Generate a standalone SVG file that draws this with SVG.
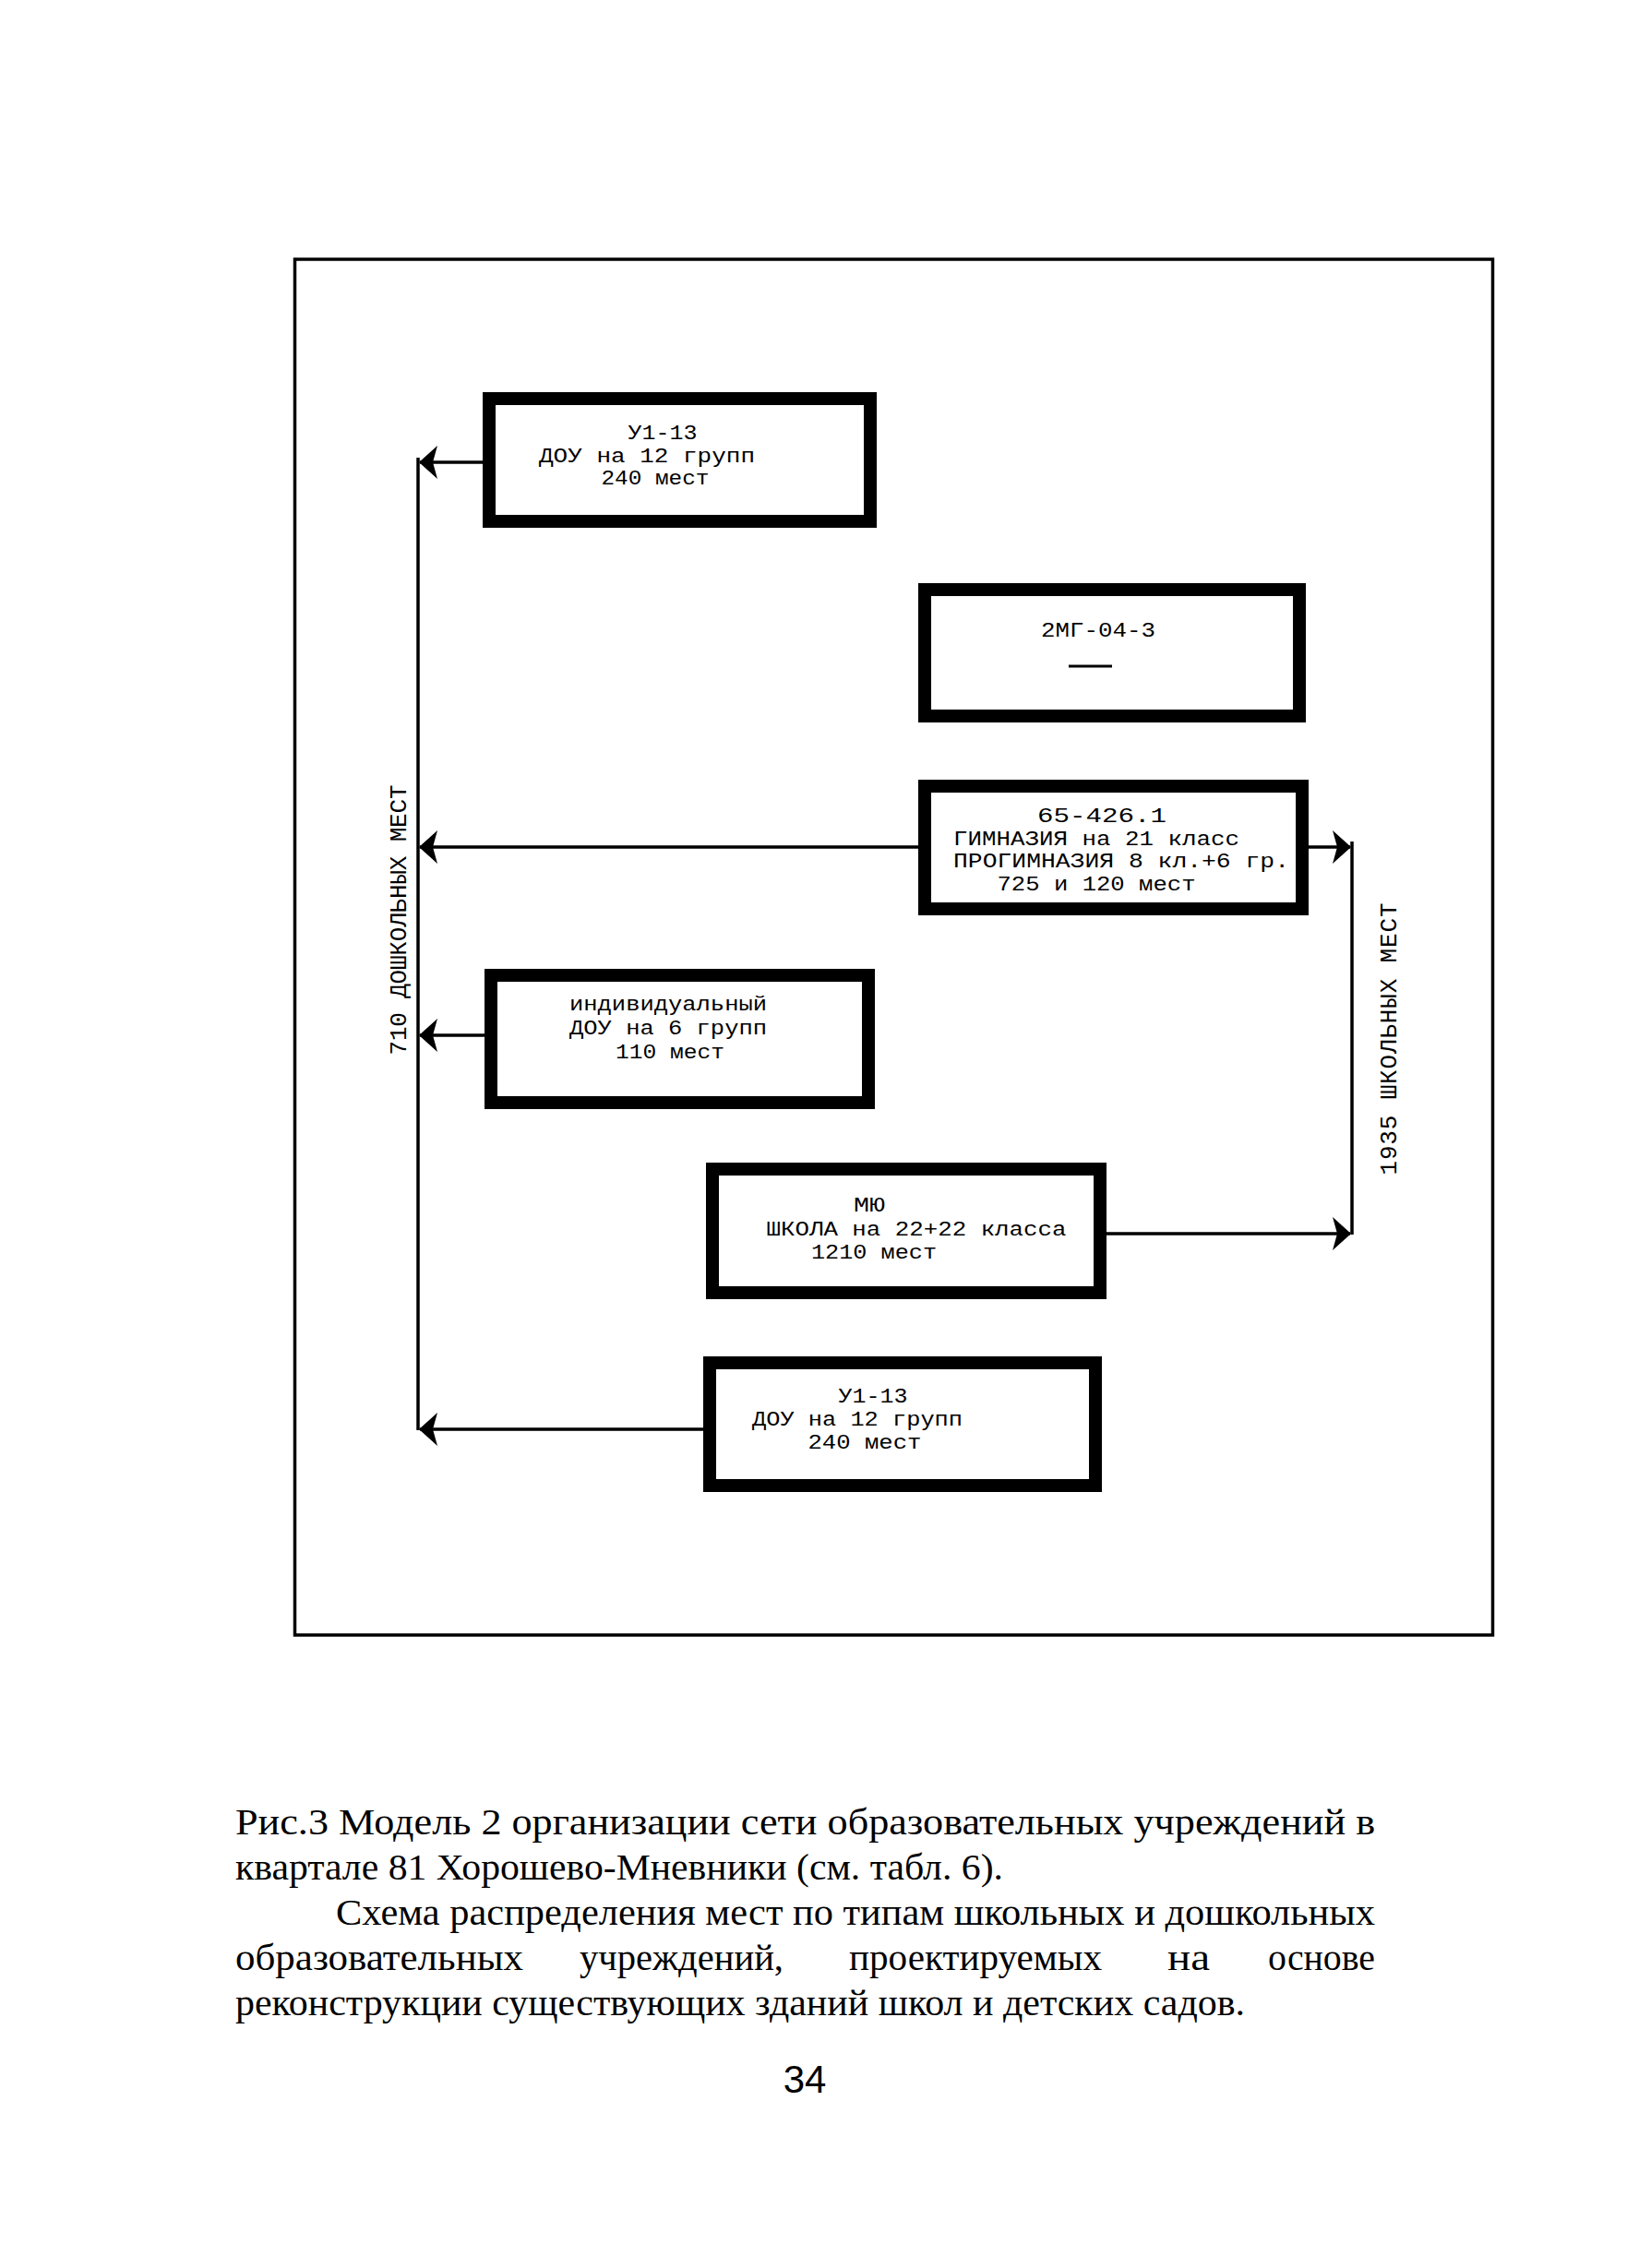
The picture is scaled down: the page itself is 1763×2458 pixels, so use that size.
<svg xmlns="http://www.w3.org/2000/svg" width="1763" height="2458" viewBox="0 0 1763 2458">
<style>
.frame{fill:none;stroke:#000;stroke-width:3.5}
.box{fill:#fff;stroke:#000;stroke-width:14}
.t{font-family:"Liberation Mono","DejaVu Sans Mono",monospace;font-size:21.5px;fill:#000;text-anchor:middle}
.lbl{font-family:"Liberation Mono","DejaVu Sans Mono",monospace;font-size:26px;fill:#000;text-anchor:middle}
.c{fill:none;stroke:#000;stroke-width:3.5}
.cap{font-family:"Liberation Serif","Times New Roman",serif;font-size:40px;fill:#000}
.pg{font-family:"Liberation Sans",Arial,sans-serif;font-size:42px;fill:#000;text-anchor:middle}
</style>
<defs>
<marker id="arr" viewBox="-22 -20 24 40" refX="0" refY="0" markerWidth="24" markerHeight="40" orient="auto" markerUnits="userSpaceOnUse">
<path d="M1,0 L-19,-18 L-14,0 L-19,18 Z" fill="#000"/>
</marker>
</defs>
<rect width="1763" height="2458" fill="#fff"/>
<rect class="frame" x="319.5" y="281" width="1298" height="1491"/>

<g id="connectors">
<line class="c" x1="453" y1="496" x2="453" y2="1550"/>
<line class="c" x1="1465" y1="912" x2="1465" y2="1338"/>
<line class="c" x1="523" y1="501" x2="455" y2="501" marker-end="url(#arr)"/>
<line class="c" x1="995" y1="918" x2="455" y2="918" marker-end="url(#arr)"/>
<line class="c" x1="525" y1="1122" x2="455" y2="1122" marker-end="url(#arr)"/>
<line class="c" x1="762" y1="1549" x2="455" y2="1549" marker-end="url(#arr)"/>
<line class="c" x1="1418" y1="918" x2="1463" y2="918" marker-end="url(#arr)"/>
<line class="c" x1="1199" y1="1337" x2="1463" y2="1337" marker-end="url(#arr)"/>
</g>

<g id="node-u1-13-top">
<rect class="box" x="530" y="432" width="413" height="133"/>
<text class="t" x="718" y="476" textLength="75" lengthAdjust="spacingAndGlyphs">У1-13</text>
<text class="t" x="701" y="500.5" textLength="234" lengthAdjust="spacingAndGlyphs">ДОУ на 12 групп</text>
<text class="t" x="710" y="525" textLength="117" lengthAdjust="spacingAndGlyphs">240 мест</text>
</g>

<g id="node-2mg">
<rect class="box" x="1002" y="639" width="406" height="137"/>
<text class="t" x="1190" y="690" textLength="124" lengthAdjust="spacingAndGlyphs">2МГ-04-3</text>
<line x1="1158" y1="722" x2="1205" y2="722" stroke="#000" stroke-width="3"/>
</g>

<g id="node-gymnasium">
<rect class="box" x="1002" y="852" width="409" height="133"/>
<text class="t" x="1194" y="891" textLength="140" lengthAdjust="spacingAndGlyphs">65-426.1</text>
<text class="t" x="1188" y="915.5" textLength="310" lengthAdjust="spacingAndGlyphs">ГИМНАЗИЯ на 21 класс</text>
<text class="t" x="1215" y="940" textLength="364" lengthAdjust="spacingAndGlyphs">ПРОГИМНАЗИЯ 8 кл.+6 гр.</text>
<text class="t" x="1188" y="964.5" textLength="215" lengthAdjust="spacingAndGlyphs">725 и 120 мест</text>
</g>

<g id="node-individual">
<rect class="box" x="532" y="1057" width="409" height="138"/>
<text class="t" x="724" y="1095" textLength="214" lengthAdjust="spacingAndGlyphs">индивидуальный</text>
<text class="t" x="724" y="1121" textLength="214" lengthAdjust="spacingAndGlyphs">ДОУ на 6 групп</text>
<text class="t" x="726" y="1147" textLength="118" lengthAdjust="spacingAndGlyphs">110 мест</text>
</g>

<g id="node-school">
<rect class="box" x="772" y="1267" width="420" height="134"/>
<text class="t" x="942" y="1313" textLength="34" lengthAdjust="spacingAndGlyphs">МЮ</text>
<text class="t" x="993" y="1338.5" textLength="325" lengthAdjust="spacingAndGlyphs">ШКОЛА на 22+22 класса</text>
<text class="t" x="947" y="1364" textLength="136" lengthAdjust="spacingAndGlyphs">1210 мест</text>
</g>

<g id="node-u1-13-bottom">
<rect class="box" x="769" y="1477" width="418" height="133"/>
<text class="t" x="946" y="1520" textLength="75" lengthAdjust="spacingAndGlyphs">У1-13</text>
<text class="t" x="929" y="1545" textLength="228" lengthAdjust="spacingAndGlyphs">ДОУ на 12 групп</text>
<text class="t" x="937" y="1570" textLength="123" lengthAdjust="spacingAndGlyphs">240 мест</text>
</g>

<g id="labels">
<text class="lbl" transform="translate(440,997) rotate(-90)" textLength="293">710 ДОШКОЛЬНЫХ МЕСТ</text>
<text class="lbl" transform="translate(1513,1126) rotate(-90)" textLength="295">1935 ШКОЛЬНЫХ МЕСТ</text>
</g>

<g id="caption">
<text class="cap" x="255" y="1988" textLength="1235" lengthAdjust="spacingAndGlyphs">Рис.3 Модель 2 организации сети образовательных учреждений в</text>
<text class="cap" x="255" y="2037" textLength="832" lengthAdjust="spacingAndGlyphs">квартале 81 Хорошево-Мневники (см. табл. 6).</text>
<text class="cap" x="364" y="2086" textLength="1126" lengthAdjust="spacingAndGlyphs">Схема распределения мест по типам школьных и дошкольных</text>
<text class="cap" x="255" y="2135" textLength="312" lengthAdjust="spacingAndGlyphs">образовательных</text>
<text class="cap" x="628" y="2135" textLength="221" lengthAdjust="spacingAndGlyphs">учреждений,</text>
<text class="cap" x="920" y="2135" textLength="274" lengthAdjust="spacingAndGlyphs">проектируемых</text>
<text class="cap" x="1265" y="2135" textLength="46" lengthAdjust="spacingAndGlyphs">на</text>
<text class="cap" x="1374" y="2135" textLength="116" lengthAdjust="spacingAndGlyphs">основе</text>
<text class="cap" x="255" y="2184" textLength="1094" lengthAdjust="spacingAndGlyphs">реконструкции существующих зданий школ и детских садов.</text>
</g>

<text class="pg" x="872" y="2268">34</text>
</svg>
